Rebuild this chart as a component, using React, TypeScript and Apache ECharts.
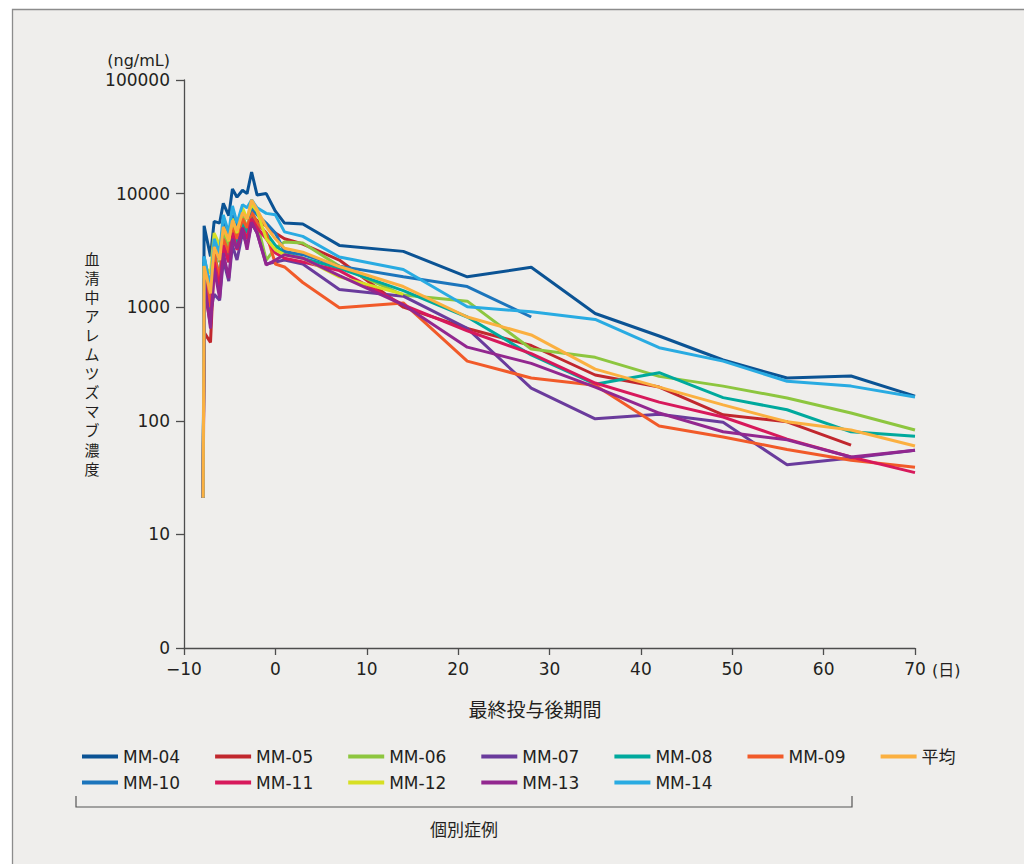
import React, { useEffect, useRef } from 'react';
import * as echarts from 'echarts';

// Sampling days (relative to last dose)
const days = [-7.9, -7.8, -7.1, -6.7, -6.1, -5.7, -5.1, -4.7, -4.2, -3.6, -3.1, -2.6, -2.0, -1.0, 0, 1, 3, 7, 14, 21, 28, 35, 42, 49, 56, 63, 70];

const mm04 = [21, 5200, 2800, 5700, 5500, 8200, 6400, 11000, 9300, 10700, 10000, 15500, 9700, 10000, 7000, 5500, 5400, 3500, 3100, 1850, 2250, 880, 558, 343, 238, 248, 165];
const mm05 = [21, 600, 490, 2500, 1700, 3500, 2500, 4500, 3500, 5500, 4500, 6500, 5800, 5200, 4500, 4000, 3600, 2600, 1000, 650, 460, 253, 198, 113, 98, 61];
const mm06 = [21, 2000, 1000, 3500, 2500, 4800, 3300, 5800, 4000, 6500, 5000, 7000, 5500, 2600, 3300, 3750, 3670, 2300, 1280, 1130, 429, 362, 246, 202, 159, 117, 83];
const mm07 = [21, 1500, 900, 1300, 1150, 2600, 1700, 3500, 2600, 4500, 3500, 5500, 4500, 2400, 2500, 2600, 2400, 1430, 1250, 650, 194, 104, 114, 97, 41, 47, 55];
const mm08 = [21, 2500, 820, 3000, 1800, 4000, 2500, 5000, 3500, 5500, 4500, 6000, 5500, 4500, 3500, 3000, 2700, 2200, 1400, 820, 380, 210, 265, 160, 125, 80, 73];
const mm09 = [21, 2000, 1000, 3000, 1800, 4000, 3000, 5000, 4000, 6000, 5000, 7000, 5500, 4500, 2400, 2260, 1650, 990, 1090, 335, 238, 206, 90, 72, 56, 45, 39];
const mm10 = [21, 2800, 1400, 3500, 2600, 5500, 3800, 6500, 5000, 7000, 6000, 7500, 6500, 5500, 4500, 3100, 2900, 2300, 1850, 1520, 820];
const mm11 = [21, 1500, 700, 2500, 1500, 3500, 2500, 4500, 3200, 5000, 4000, 6000, 5000, 4000, 3000, 2700, 2500, 2100, 1050, 620, 390, 215, 146, 108, 69, 48, 35];
const mm12 = [21, 2300, 2000, 4500, 3500, 5000, 3800, 6000, 4500, 7500, 6000, 8000, 7000, 4000, 3200, 2900, 2700, 1850, 1300];
const mm13 = [21, 1800, 650, 2200, 1200, 3000, 1800, 4000, 3300, 5000, 3200, 5600, 4500, 2350, 2600, 2900, 2700, 1900, 1050, 445, 320, 198, 117, 80, 68, 48, 55];
const mm14 = [21, 2800, 1500, 4000, 3000, 6500, 4500, 7800, 5500, 8000, 7500, 8800, 7500, 6700, 6500, 4600, 4200, 2770, 2150, 1010, 910, 780, 440, 335, 223, 202, 162];
const mean = [21, 2300, 1320, 3400, 2600, 5100, 3900, 5800, 4700, 6800, 6000, 8800, 7200, 5100, 4000, 3300, 3050, 2280, 1520, 820, 570, 285, 198, 138, 98, 83, 60];

const seriesNames = ['MM-04', 'MM-05', 'MM-06', 'MM-07', 'MM-08', 'MM-09', 'MM-10', 'MM-11', 'MM-12', 'MM-13', 'MM-14', '平均'];
const seriesValues = [mm04, mm05, mm06, mm07, mm08, mm09, mm10, mm11, mm12, mm13, mm14, mean];
const seriesColors = ['#0b5394', '#c1272d', '#8dc63f', '#6a3b9c', '#00a99d', '#f15a29', '#1c75bc', '#d7195b', '#d7df23', '#92278f', '#29abe2', '#fbb040'];

const legendRow1 = ['MM-04', 'MM-05', 'MM-06', 'MM-07', 'MM-08', 'MM-09', '平均'];
const legendRow2 = ['MM-10', 'MM-11', 'MM-12', 'MM-13', 'MM-14'];

const yTitle = '血清中アレムツズマブ濃度';
const yUnit = '(ng/mL)';
const xTitle = '最終投与後期間';
const xUnit = '(日)';
const bracketLabel = '個別症例';

const FONT = '"DejaVu Sans", "Noto Sans CJK JP", sans-serif';
const CJK = '"Noto Sans CJK JP", sans-serif';
const TXT = '#231f20';

export default function App() {
  const ref = useRef<HTMLDivElement>(null);
  useEffect(() => {
    document.body.style.margin = '0';
    if (!ref.current) return;
    const chart = echarts.init(ref.current, undefined, { renderer: 'svg' });
    const series = seriesNames.map((name, i) => ({
      name,
      type: 'line',
      data: seriesValues[i].map((v, j) => [days[j], v]),
      symbol: 'none',
      color: seriesColors[i],
      lineStyle: { width: 3, color: seriesColors[i] },
      z: name === '平均' ? 3 : 2,
    }));
    const legendBase = {
      left: 82,
      padding: 0,
      itemWidth: 36,
      itemHeight: 4,
      itemGap: 35,
      icon: 'rect',
      textStyle: { fontSize: 17, color: TXT, fontFamily: FONT },
    };
    const yTitleChars = yTitle.split('').map((ch, i) => ({
      type: 'text',
      x: 92,
      y: 258 + i * 19.1,
      style: { text: ch, fontSize: 15, fill: TXT, fontFamily: CJK, textAlign: 'center', textVerticalAlign: 'middle' },
    }));
    chart.setOption({
      animation: false,
      backgroundColor: '#ffffff',
      grid: { left: 184, right: 109, top: 80, bottom: 216 },
      xAxis: {
        type: 'value',
        min: -10,
        max: 70,
        interval: 10,
        axisLine: { show: true, onZero: false, lineStyle: { color: '#4d4d4d', width: 1.3 } },
        axisTick: { show: true, inside: false, length: 7, lineStyle: { color: '#4d4d4d', width: 1.3 } },
        axisLabel: {
          margin: 12,
          fontSize: 17,
          color: TXT,
          fontFamily: FONT,
          formatter: (v: number) => (v < 0 ? '\u2212' + Math.abs(v) : String(v)),
        },
        splitLine: { show: false },
      },
      yAxis: {
        type: 'log',
        logBase: 10,
        min: 1,
        max: 100000,
        splitNumber: 5,
        axisLine: { show: true, onZero: false, lineStyle: { color: '#4d4d4d', width: 1.3 } },
        axisTick: { show: true, inside: false, length: 8, lineStyle: { color: '#4d4d4d', width: 1.3 } },
        axisLabel: {
          margin: 14,
          fontSize: 17,
          color: TXT,
          fontFamily: FONT,
          formatter: (v: number) => {
            const r = Math.round(v);
            return r === 1 ? '0' : String(r);
          },
        },
        splitLine: { show: false },
        minorTick: { show: false },
      },
      legend: [
        { ...legendBase, top: 748, data: legendRow1.map((n) => ({ name: n, itemStyle: { color: seriesColors[seriesNames.indexOf(n)] } })) },
        { ...legendBase, top: 774, data: legendRow2.map((n) => ({ name: n, itemStyle: { color: seriesColors[seriesNames.indexOf(n)] } })) },
      ],
      graphic: [
        {
          type: 'rect',
          z: -10,
          silent: true,
          shape: { x: 12.5, y: 9.5, width: 1100, height: 1000 },
          style: { fill: '#efeeec', stroke: '#8c8c8c', lineWidth: 1.3 },
        },
        {
          type: 'text',
          x: 170,
          y: 60,
          style: { text: yUnit, fontSize: 16, fill: TXT, fontFamily: FONT, textAlign: 'right', textVerticalAlign: 'middle' },
        },
        ...yTitleChars,
        {
          type: 'text',
          x: 932,
          y: 670,
          style: { text: xUnit, fontSize: 16, fill: TXT, fontFamily: FONT, textAlign: 'left', textVerticalAlign: 'middle' },
        },
        {
          type: 'text',
          x: 535,
          y: 708,
          style: { text: xTitle, fontSize: 19, fill: TXT, fontFamily: CJK, textAlign: 'center', textVerticalAlign: 'middle' },
        },
        {
          type: 'polyline',
          shape: { points: [[76, 796], [76, 807], [852, 807], [852, 796]] },
          style: { stroke: '#555555', lineWidth: 1.2, fill: 'none' },
        },
        {
          type: 'text',
          x: 464,
          y: 828,
          style: { text: bracketLabel, fontSize: 17, fill: TXT, fontFamily: CJK, textAlign: 'center', textVerticalAlign: 'middle' },
        },
      ],
      series,
    });
    return () => chart.dispose();
  }, []);
  return <div ref={ref} style={{ width: 1024, height: 864 }} />;
}
